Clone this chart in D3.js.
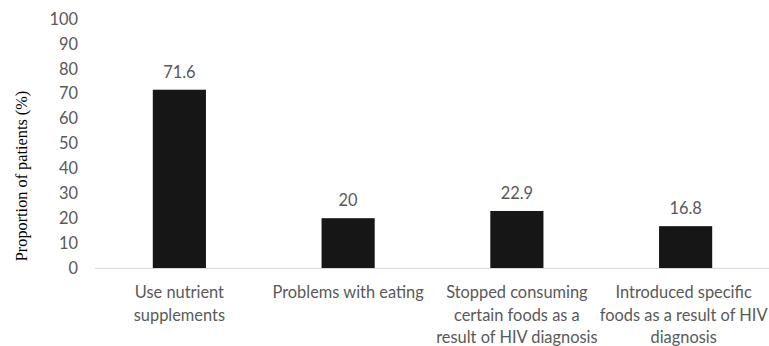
<!DOCTYPE html>
<html>
<head>
<meta charset="utf-8">
<script src="https://cdnjs.cloudflare.com/ajax/libs/d3/7.8.5/d3.min.js"></script>
<style>
  body { margin: 0; background: #fff; }
</style>
</head>
<body>
<svg id="chart"></svg>
<script>
// data
var categories = ["nutrient", "eating", "stopped", "introduced"];
var labelLines = [
    ["Use nutrient", "supplements"],
    ["Problems with eating"],
    ["Stopped consuming", "certain foods as a", "result of HIV diagnosis"],
    ["Introduced specific", "foods as a result of HIV", "diagnosis"]
];
var values = [71.6, 20, 22.9, 16.8];
var yTicks = [0, 10, 20, 30, 40, 50, 60, 70, 80, 90, 100];

var svg = d3.select("#chart").attr("width", 769).attr("height", 346);
var grey = "#595959";
var font = "Lato, 'Open Sans', sans-serif";
var fs = "16.4px";

var x = d3.scaleBand()
    .domain(categories)
    .range([95, 770])
    .paddingInner(0.685)
    .paddingOuter(0.3425);

var y = d3.scaleLinear()
    .domain([0, 100])
    .range([268, 19]);

// y axis labels, no line
var yAxis = svg.append("g")
    .attr("transform", "translate(80,0)")
    .call(d3.axisLeft(y).tickValues(yTicks).tickSize(0).tickPadding(2));
yAxis.select(".domain").remove();
yAxis.selectAll("text")
    .attr("fill", grey)
    .attr("font-family", font)
    .attr("font-size", fs);

// bars
svg.append("g").selectAll("rect")
    .data(values)
    .enter().append("rect")
    .attr("x", function(d, i) { return x(categories[i]); })
    .attr("y", function(d) { return y(d); })
    .attr("width", x.bandwidth())
    .attr("height", function(d) { return y(0) - y(d); })
    .attr("fill", "#161616");

// baseline
svg.append("line")
    .attr("x1", 95).attr("x2", 769)
    .attr("y1", y(0) + 0.5).attr("y2", y(0) + 0.5)
    .attr("stroke", "#d9d9d9")
    .attr("stroke-width", 1);

// value labels
svg.append("g").selectAll("text")
    .data(values)
    .enter().append("text")
    .attr("x", function(d, i) { return x(categories[i]) + x.bandwidth() / 2; })
    .attr("y", function(d) { return y(d) - 12; })
    .attr("text-anchor", "middle")
    .attr("fill", grey)
    .attr("font-family", font)
    .attr("font-size", fs)
    .text(function(d) { return d; });

// category labels
var cat = svg.append("g").selectAll("text")
    .data(labelLines)
    .enter().append("text")
    .attr("text-anchor", "middle")
    .attr("fill", grey)
    .attr("font-family", font)
    .attr("font-size", fs)
    .attr("transform", function(d, i) {
        var cx = x(categories[i]) + x.bandwidth() / 2;
        return "translate(" + (i === 3 ? cx - 2 : cx) + ",298)";
    });
cat.selectAll("tspan")
    .data(function(d) { return d; })
    .enter().append("tspan")
    .attr("x", 0)
    .attr("y", function(d, i) { return i * 22.5; })
    .text(function(d) { return d; });

// y axis title
svg.append("text")
    .attr("transform", "translate(27,176) rotate(-90)")
    .attr("text-anchor", "middle")
    .attr("font-family", "'Liberation Serif', 'Times New Roman', serif")
    .attr("font-size", "16.3px")
    .attr("fill", "#000")
    .text("Proportion of patients (%)");
</script>
</body>
</html>
